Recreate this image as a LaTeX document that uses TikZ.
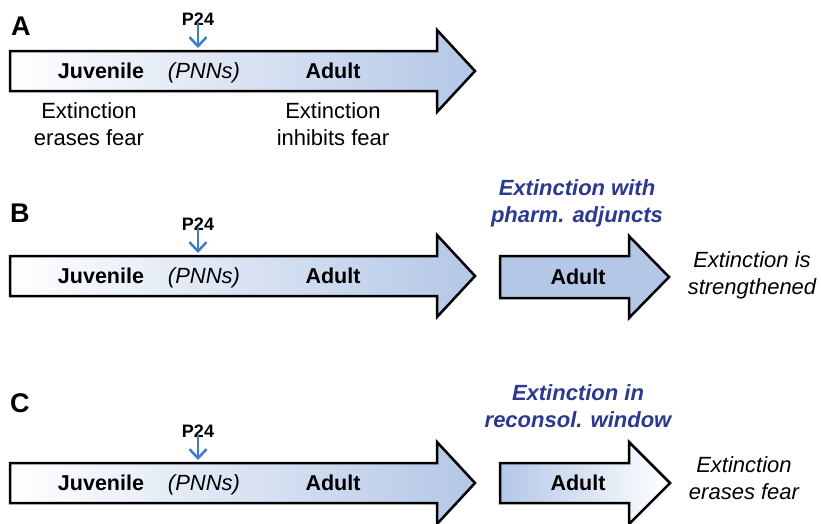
\documentclass[tikz,border=0pt]{standalone}
\usepackage{fontspec}
\setmainfont{Liberation Sans}
\usetikzlibrary{arrows.meta}
\definecolor{barblue}{HTML}{B4C7E7}
\definecolor{titleblue}{HTML}{2B3990}
\definecolor{markblue}{HTML}{3D7CC9}

\begin{document}
\begin{tikzpicture}[x=1pt,y=-1pt,
  every node/.style={inner sep=0pt, align=center, font=\fontsize{22}{27}\selectfont},
  bar/.style={draw=black, line width=2.5pt, line join=miter},
  stage/.style={anchor=base, font=\fontsize{21.5}{26}\selectfont\bfseries},
  panel/.style={anchor=base west, font=\fontsize{27}{30}\selectfont\bfseries},
  age/.style={anchor=base, font=\fontsize{18}{20}\selectfont\bfseries},
  pmark/.style={draw=markblue, line width=2.5pt, -{Straight Barb[length=9pt,width=17pt]}},
  outcome/.style={font=\fontsize{22}{27}\selectfont\itshape},
  treat/.style={text=titleblue, font=\fontsize{22}{27}\selectfont\bfseries\itshape}]

\useasboundingbox (0,0) rectangle (821,523);

% long developmental arrows, one per panel
\foreach \lab/\y in {a/71,b/276,c/483}{
  \shade[bar, left color=white, right color=barblue]
    (10,\y-20) -- (437,\y-20) -- (437,\y-41) -- (475,\y) -- (437,\y+41)
    -- (437,\y+20) -- (10,\y+20) -- cycle;
  \node[stage] (juv\lab) at (101,\y+7) {Juvenile};
  \node[anchor=base, font=\fontsize{22}{27}\selectfont\itshape] (pnn\lab) at (204,\y+7) {(PNNs)};
  \node[stage] (adu\lab) at (333,\y+7) {Adult};
  \node[age] (p24\lab) at (198,\y-46) {P24};
  \coordinate (top\lab) at (198,\y-23);
  \draw[pmark, shorten <=3pt] (p24\lab.center) -- (top\lab);
}

% panel letters
\node[panel] (lbla) at (11,35) {A};
\node[panel] (lblb) at (10,222) {B};
\node[panel] (lblc) at (10,412) {C};

% A: outcomes under the arrow
\node (erasea) at (89,124) {Extinction\\erases fear};
\node (inhiba) at (333,124) {Extinction\\inhibits fear};

% B: extinction with adjuncts
\fill[barblue] (500,256) -- (629,256) -- (629,236) -- (669,277) -- (629,318)
  -- (629,298) -- (500,298) -- cycle;
\draw[bar] (500,256) -- (629,256) -- (629,236) -- (669,277) -- (629,318)
  -- (629,298) -- (500,298) -- cycle;
\node[stage] (adub2) at (578,284) {Adult};
\node[treat] (treatb) at (577,203) {Extinction with\\pharm. adjuncts};
\node[outcome] (outb) at (752,275) {Extinction is\\strengthened};

% C: extinction in reconsolidation window
\shade[bar, left color=barblue, middle color=white, right color=white]
  (500,463) -- (629,463) -- (629,442) -- (670,483) -- (629,524)
  -- (629,503) -- (500,503) -- cycle;
\node[stage] (aduc2) at (578,490) {Adult};
\node[treat] (treatc) at (578,406) {Extinction in\\reconsol. window};
\node[outcome] (outc) at (744,478) {Extinction\\erases fear};

\end{tikzpicture}
\end{document}
